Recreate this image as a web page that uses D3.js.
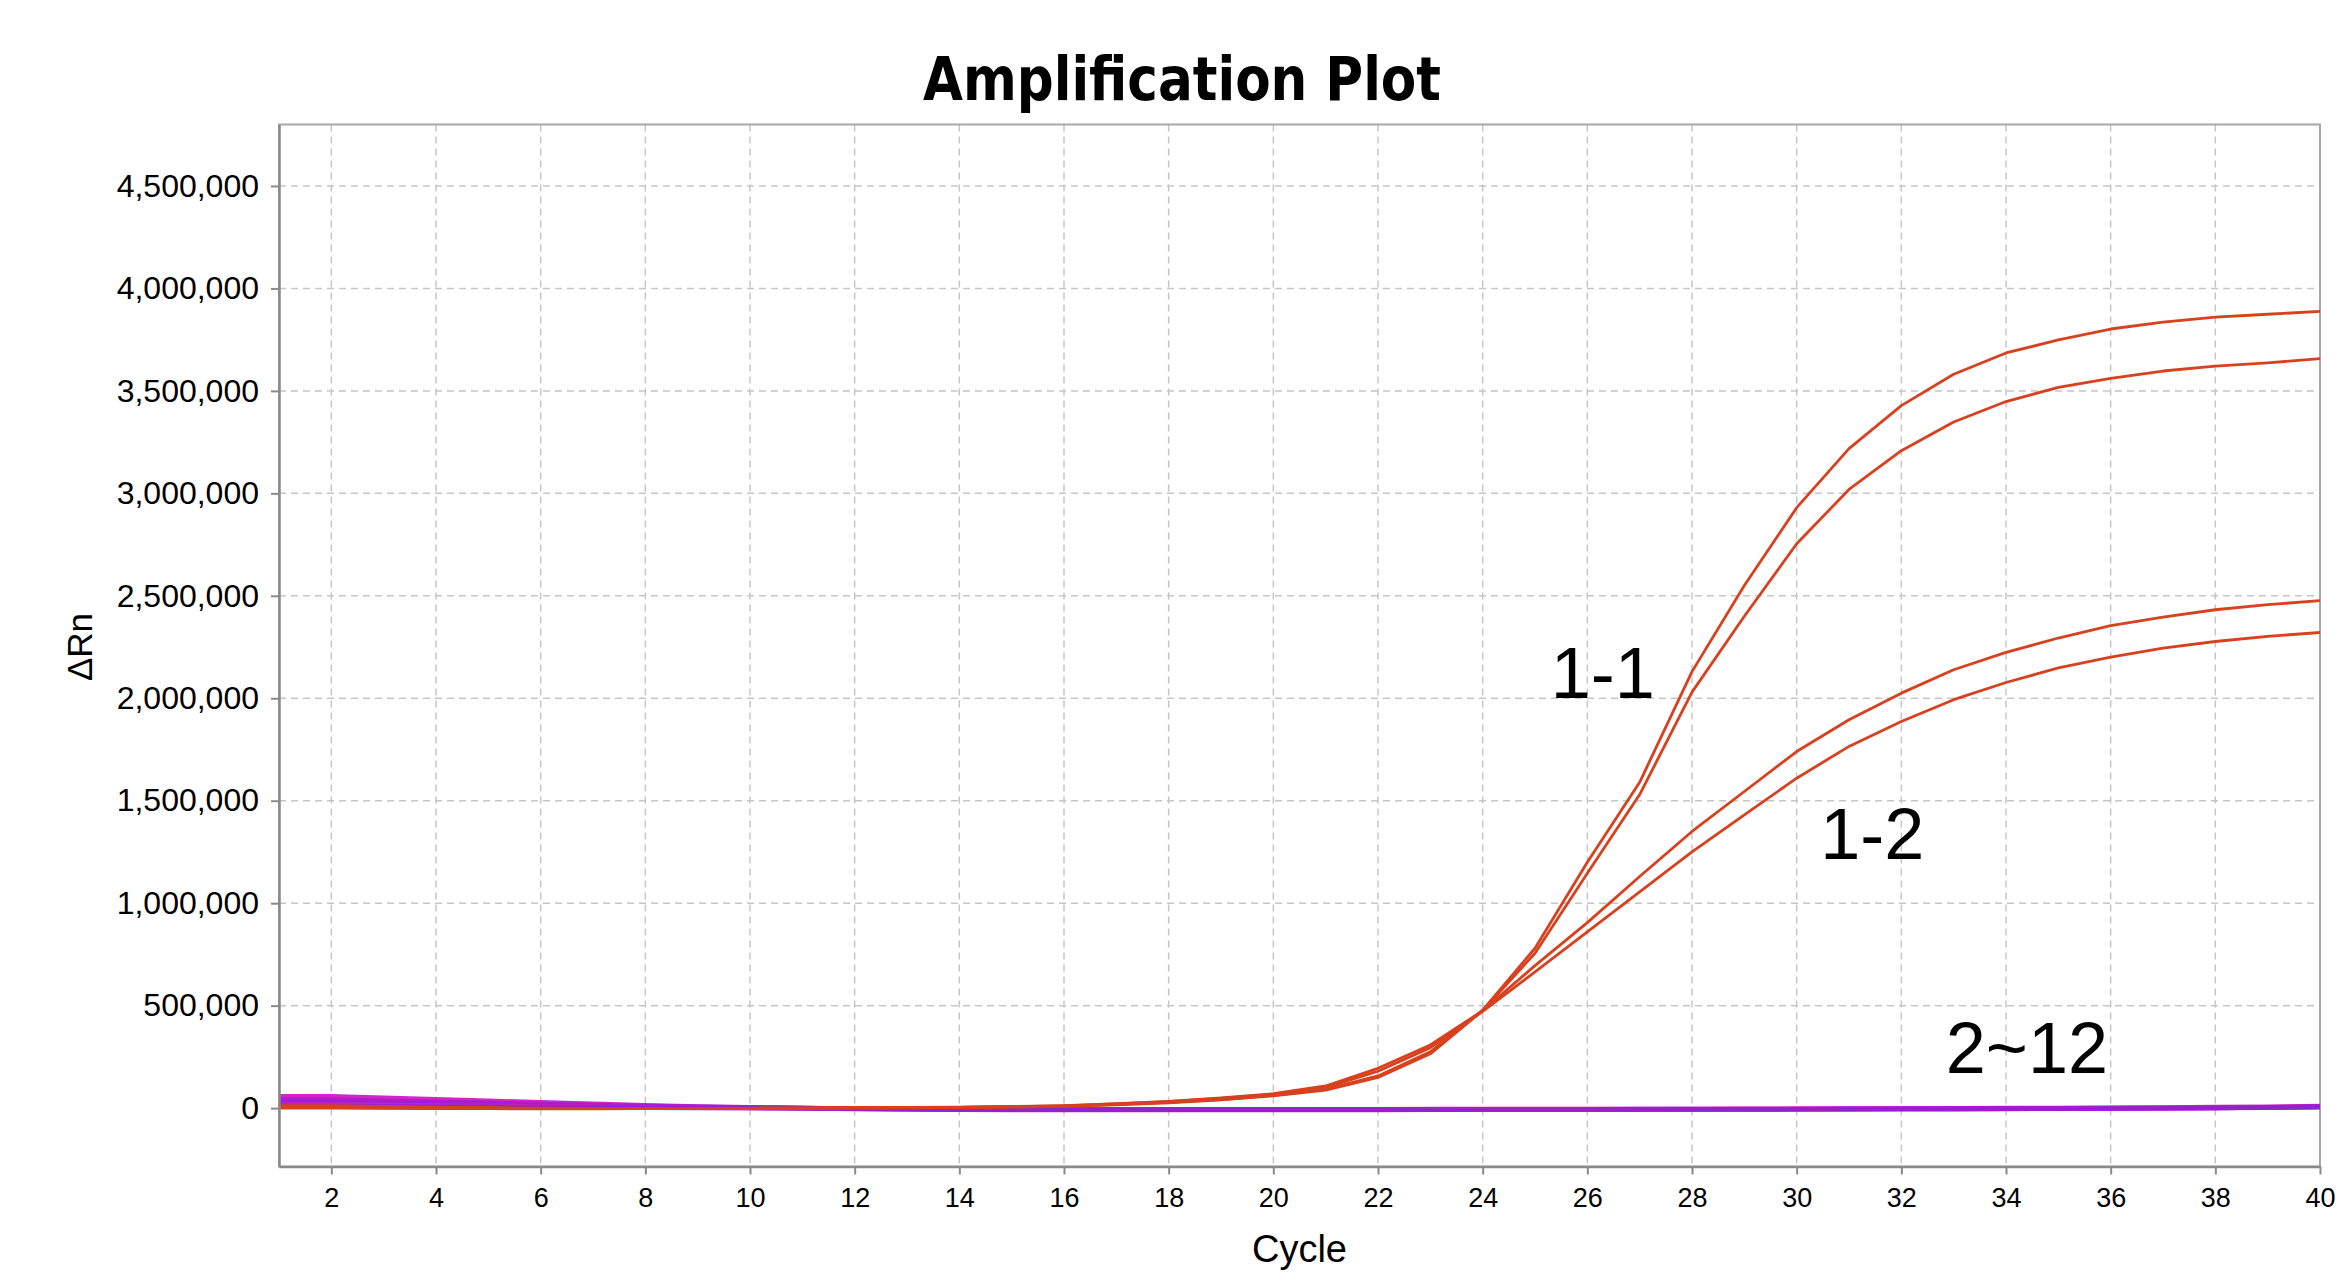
<!DOCTYPE html>
<html>
<head>
<meta charset="utf-8">
<title>Amplification Plot</title>
<script src="https://cdn.jsdelivr.net/npm/d3@7"></script>
<style>
  html, body { margin: 0; padding: 0; background: #fff; }
  #chart { width: 2341px; height: 1285px; }
</style>
</head>
<body>
<div id="chart"></div>
<script>
"use strict";

// cycles 1..40
const cycles = d3.range(1, 41);

// sample 1-1, two wells (delta Rn)
const s11a = [2000, 2000, 1000, 0, -2000, -3000, -3000, -3000, -2000, -1000,
  0, 1000, 2000, 4000, 6000, 10000, 18000, 28000, 42000, 62000,
  92000, 157000, 275000, 478000, 780000, 1200000, 1590000, 2130000, 2550000, 2930000,
  3218000, 3428000, 3581000, 3685000, 3749000, 3802000, 3836000, 3860000, 3874000, 3888000];
const s11b = [0, 0, -1000, -2000, -3000, -4000, -4000, -3000, -3000, -2000,
  -1000, 0, 1000, 3000, 5000, 9000, 16000, 26000, 40000, 60000,
  88000, 150000, 265000, 476000, 756000, 1146000, 1530000, 2030000, 2400000, 2754000,
  3019000, 3208000, 3348000, 3448000, 3517000, 3561000, 3597000, 3621000, 3637000, 3657000];

// sample 1-2, two wells
const s12a = [12000, 12000, 8000, 5000, 2000, 0, -1000, -2000, -2000, -1000,
  0, 2000, 3000, 5000, 8000, 12000, 22000, 33000, 50000, 70000,
  108000, 194000, 308000, 475000, 695000, 905000, 1130000, 1350000, 1545000, 1740000,
  1895000, 2025000, 2139000, 2224000, 2294000, 2354000, 2396000, 2432000, 2457000, 2476000];
const s12b = [8000, 8000, 5000, 3000, 1000, -1000, -2000, -2000, -2000, -1000,
  0, 1000, 2000, 4000, 7000, 11000, 20000, 31000, 47000, 67000,
  100000, 180000, 295000, 472000, 665000, 860000, 1055000, 1250000, 1431000, 1610000,
  1765000, 1887000, 1993000, 2077000, 2148000, 2201000, 2245000, 2277000, 2302000, 2321000];

// samples 2~12 (no amplification)
const nc1 = [58, 58, 50, 43, 36, 28, 21, 14, 8, 4, 1, -2, -4, -5, -6, -6, -6, -6, -6, -6,
  -6, -6, -5, -5, -5, -4, -4, -4, -3, -3, -2, -2, -1, 0, 1, 2, 3, 5, 7, 10].map(v => v * 1000);
const nc2 = [42, 42, 36, 31, 26, 20, 15, 10, 6, 3, 0, -3, -5, -6, -7, -7, -7, -7, -7, -7,
  -7, -7, -7, -6, -6, -6, -5, -5, -5, -4, -4, -3, -2, -2, -1, 0, 1, 2, 4, 7].map(v => v * 1000);
const nc3 = [30, 30, 26, 22, 18, 14, 10, 7, 4, 2, 0, -3, -5, -7, -8, -8, -8, -8, -8, -8,
  -8, -8, -7, -7, -7, -7, -6, -6, -6, -5, -5, -4, -4, -3, -2, -1, 0, 1, 3, 5].map(v => v * 1000);
const nc4 = [18, 18, 15, 13, 11, 8, 6, 4, 2, 1, -1, -4, -6, -8, -9, -9, -9, -9, -9, -9,
  -9, -9, -8, -8, -8, -8, -7, -7, -7, -6, -6, -5, -4, -4, -3, -2, -1, 0, 2, 4].map(v => v * 1000);
const nc5 = [10, 10, 8, 7, 6, 4, 3, 2, 1, 0, -1, -3, -5, -7, -8, -8, -8, -8, -8, -8,
  -8, -8, -8, -7, -7, -7, -7, -6, -6, -6, -5, -5, -4, -3, -3, -2, -1, 1, 3, 6].map(v => v * 1000);

const yTicks = d3.range(0, 4500001, 500000);
const xTicks = d3.range(2, 41, 2);

const labels = [
  { text: "1-1", cycle: 25.3, value: 2000000 },
  { text: "1-2", cycle: 30.45, value: 1215000 },
  { text: "2~12", cycle: 32.85, value: 170000 }
];

document.addEventListener("DOMContentLoaded", function() {
  drawChart();
});

function drawChart() {
  let width = 2341, height = 1285;
  let marginLeft = 279, marginRight = 21, marginTop = 124.5, marginBottom = 118.5;
  let arial = "'Liberation Sans', Arial, sans-serif";

  let svg = d3.select("#chart").append("svg")
    .attr("width", width)
    .attr("height", height);

  let x = d3.scaleLinear().domain([1, 40]).range([marginLeft, width - marginRight]);
  let y = d3.scaleLinear().domain([-285000, 4800000]).range([height - marginBottom, marginTop]);

  // grid
  let grid = svg.append("g").attr("class", "grid")
    .attr("stroke", "#c6c6c6")
    .attr("stroke-width", 1.5)
    .attr("stroke-dasharray", "7,5");
  grid.selectAll(".vgrid")
    .data(xTicks.filter(d => d < 40))
    .enter().append("line")
    .attr("x1", d => x(d)).attr("x2", d => x(d))
    .attr("y1", y.range()[1]).attr("y2", y.range()[0]);
  grid.selectAll(".hgrid")
    .data(yTicks)
    .enter().append("line")
    .attr("x1", x.range()[0]).attr("x2", x.range()[1])
    .attr("y1", d => y(d)).attr("y2", d => y(d));

  // frame (top / right)
  svg.append("rect")
    .attr("x", x.range()[0]).attr("y", y.range()[1])
    .attr("width", x.range()[1] - x.range()[0])
    .attr("height", y.range()[0] - y.range()[1])
    .attr("fill", "none")
    .attr("stroke", "#a8a8a8")
    .attr("stroke-width", 2);

  let line = d3.line()
    .x((d, i) => x(cycles[i]))
    .y(d => y(d));

  // flat curves first, amplified curves on top
  let flat = [nc1, nc2, nc3, nc4, nc5];
  let flatColors = ["#d426c8", "#b01ccc", "#a01ed0", "#c422c8", "#9620cc"];
  svg.append("g").selectAll("path")
    .data(flat)
    .enter().append("path")
    .attr("d", line)
    .attr("fill", "none")
    .attr("stroke", (d, i) => flatColors[i])
    .attr("stroke-width", 4.5)
    .attr("stroke-linejoin", "round");

  svg.append("g").selectAll("path")
    .data([s12b, s12a, s11b, s11a])
    .enter().append("path")
    .attr("d", line)
    .attr("fill", "none")
    .attr("stroke", "#d8401e")
    .attr("stroke-width", 2.8)
    .attr("stroke-linejoin", "round");

  // axes
  let yAxis = svg.append("g")
    .attr("transform", `translate(${marginLeft},0)`)
    .call(d3.axisLeft(y).tickValues(yTicks).tickFormat(d3.format(","))
      .tickSize(8).tickSizeOuter(0).tickPadding(12));
  let xAxis = svg.append("g")
    .attr("transform", `translate(0,${height - marginBottom})`)
    .call(d3.axisBottom(x).tickValues(xTicks).tickSize(8).tickSizeOuter(0).tickPadding(13));

  [yAxis, xAxis].forEach(ax => {
    ax.select(".domain").attr("stroke", "#8a8a8a").attr("stroke-width", 2.5);
    ax.selectAll(".tick line").attr("stroke", "#8a8a8a").attr("stroke-width", 2);
  });
  yAxis.selectAll(".tick text")
    .attr("fill", "#000")
    .style("font-family", arial)
    .style("font-size", "32px");
  xAxis.selectAll(".tick text")
    .attr("fill", "#000")
    .style("font-family", arial)
    .style("font-size", "27px");

  // title and axis titles
  svg.append("text")
    .attr("x", 1182)
    .attr("y", 100)
    .attr("text-anchor", "middle")
    .attr("textLength", 518)
    .attr("lengthAdjust", "spacingAndGlyphs")
    .style("font-family", "'DejaVu Sans', sans-serif")
    .style("font-weight", "bold")
    .style("font-size", "60px")
    .text("Amplification Plot");

  svg.append("text")
    .attr("x", (x.range()[0] + x.range()[1]) / 2)
    .attr("y", 1262)
    .attr("text-anchor", "middle")
    .style("font-family", arial)
    .style("font-size", "38px")
    .text("Cycle");

  svg.append("text")
    .attr("transform", "translate(92,647) rotate(-90)")
    .attr("text-anchor", "middle")
    .style("font-family", arial)
    .style("font-size", "35px")
    .text("\u0394Rn");

  // curve group labels
  svg.append("g").selectAll("text")
    .data(labels)
    .enter().append("text")
    .attr("x", d => x(d.cycle))
    .attr("y", d => y(d.value))
    .style("font-family", arial)
    .style("font-size", "72px")
    .text(d => d.text);
}
</script>
</body>
</html>
